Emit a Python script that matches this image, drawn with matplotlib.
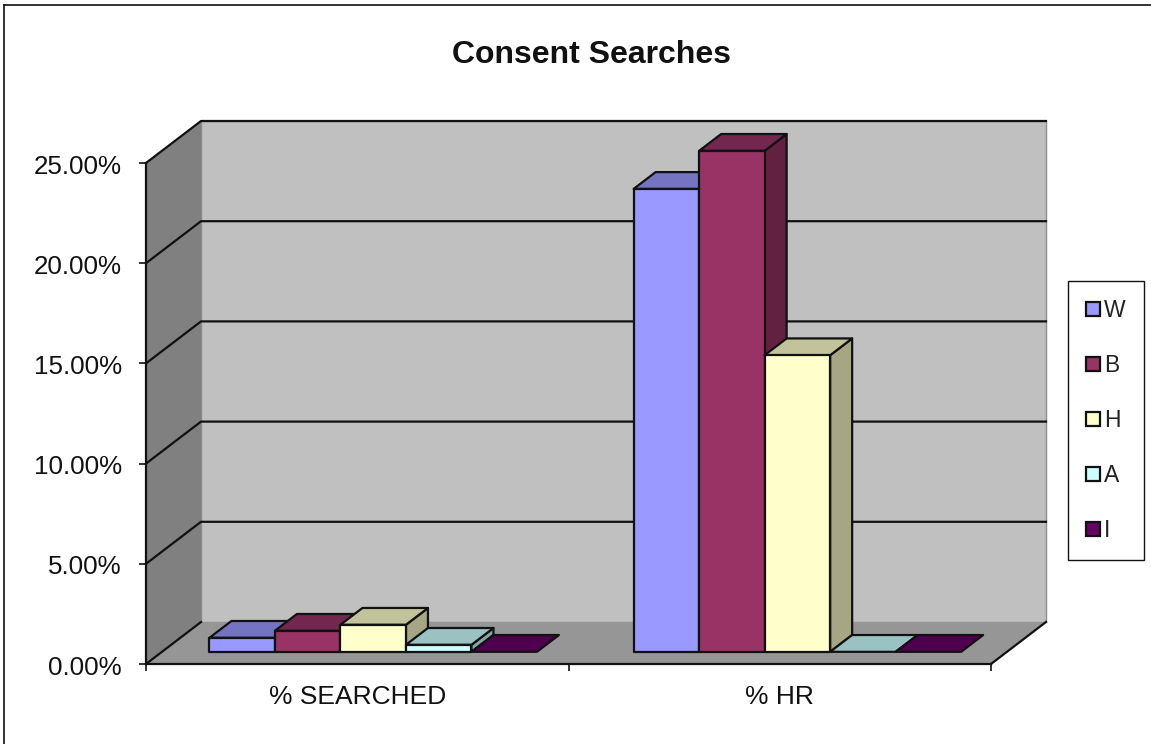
import matplotlib
matplotlib.use("Agg")
import matplotlib.pyplot as plt
from matplotlib.patches import Polygon, Patch
from matplotlib.lines import Line2D
from matplotlib.transforms import ScaledTranslation

plt.rcParams['font.family'] = ['Liberation Sans', 'DejaVu Sans']

# data
categories = ["% SEARCHED", "% HR"]
series = ["W", "B", "H", "A", "I"]
searched = [0.70, 1.05, 1.35, 0.35, 0.0]
hit_rate = [23.1, 25.0, 14.8, 0.0, 0.0]
colors = ["#9999FF", "#993366", "#FFFFCC", "#CCFFFF", "#660066"]
y_ticks = [0, 5, 10, 15, 20, 25]

W, H = 1151, 744
LEFT, RIGHT, TOP, BOTTOM = 146, 991, 163, 664

# depth of the box, in data units
DX = 55 / 422.5
DY = 42 / 20.04
BAR_W = 1 / 6.45
BAR_NEAR = 0.29
BAR_FAR = 0.69
GROUP_STEP = 1.004
EDGE = "#111111"
LW = 1.6


def shade(col, f):
    r, g, b = matplotlib.colors.to_rgb(col)
    return (r * f, g * f, b * f)


def face(ax, pts, col, z, lw=LW, ec=EDGE):
    ax.add_patch(Polygon(pts, closed=True, fc=col, ec=ec, lw=lw, zorder=z,
                         clip_on=False, joinstyle="round"))


def bar3d(ax, x, v, col, z):
    x0 = x + BAR_NEAR * DX
    x1 = x0 + BAR_W
    y0 = BAR_NEAR * DY
    y1 = y0 + v
    ox = (BAR_FAR - BAR_NEAR) * DX
    oy = (BAR_FAR - BAR_NEAR) * DY
    if v > 0:
        face(ax, [(x1, y0), (x1 + ox, y0 + oy), (x1 + ox, y1 + oy), (x1, y1)], shade(col, 0.65), z)
    face(ax, [(x0, y1), (x1, y1), (x1 + ox, y1 + oy), (x0 + ox, y1 + oy)], shade(col, 0.76), z)
    if v > 0:
        face(ax, [(x0, y0), (x1, y0), (x1, y1), (x0, y1)], col, z)


fig = plt.figure(figsize=(W / 100, H / 100), dpi=100, facecolor="white")
ax = fig.add_axes([LEFT / W, 1 - BOTTOM / H, (RIGHT - LEFT) / W, (BOTTOM - TOP) / H])
ax.set_xlim(0, 2)
ax.set_ylim(0, 25)
ax.patch.set_visible(False)

# walls and floor
face(ax, [(DX, DY), (2 + DX, DY), (2 + DX, 25 + DY), (DX, 25 + DY)], "#C0C0C0", 1, lw=1.0, ec="#8c8c8c")
face(ax, [(0, 0), (DX, DY), (DX, 25 + DY), (0, 25)], "#808080", 1, lw=0)
face(ax, [(0, 0), (2, 0), (2 + DX, DY), (DX, DY)], "#969696", 1, lw=0)

# gridlines run along the side wall and the back wall
for v in y_ticks[1:]:
    ax.plot([0, DX, 2 + DX], [v, v + DY, v + DY], color=EDGE, lw=LW, zorder=2, clip_on=False)
ax.plot([0, DX], [0, DY], color=EDGE, lw=LW, zorder=2, clip_on=False)
ax.plot([2, 2 + DX], [0, DY], color=EDGE, lw=LW, zorder=2, clip_on=False)

# bars, left to right so the nearer faces paint over
z = 3
for g, values in enumerate([searched, hit_rate]):
    start = g * GROUP_STEP + 0.5 - 2.5 * BAR_W
    for i, v in enumerate(values):
        bar3d(ax, start + i * BAR_W, v, colors[i], z)
        z += 1

# axes
for s in ["top", "right"]:
    ax.spines[s].set_visible(False)
for s in ["left", "bottom"]:
    ax.spines[s].set_linewidth(LW)
    ax.spines[s].set_color(EDGE)
    ax.spines[s].set_zorder(50)
ax.set_yticks(y_ticks)
ax.set_yticklabels([f"{v:.2f}%" for v in y_ticks], fontsize=18.7, color="#111111")
ax.tick_params(axis="y", length=5, width=1.2, color=EDGE, pad=12.5)
nudge = ScaledTranslation(0, -0.8 / 72, fig.dpi_scale_trans)
for lab in ax.get_yticklabels():
    lab.set_transform(lab.get_transform() + nudge)
ax.set_xticks([0, 1, 2])
ax.set_xticklabels([])
ax.tick_params(axis="x", which="major", length=5, width=1.2, color=EDGE)
ax.set_xticks([0.5, 1.5], minor=True)
ax.set_xticklabels(categories, minor=True, fontsize=19, color="#111111")
ax.tick_params(axis="x", which="minor", length=0, pad=15.4)

fig.text(591 / W, 1 - 55 / H, "Consent Searches", fontsize=23, fontweight="bold",
         ha="center", va="center", color="#111111")

handles = [Patch(fc=c, ec="#111111", lw=1.6) for c in colors]
leg = ax.legend(handles, series, loc="upper left", bbox_to_anchor=(1068 / W, 1 - 281 / H),
                bbox_transform=fig.transFigure, fontsize=16.5, frameon=True, fancybox=False,
                framealpha=1, edgecolor="#111111", borderpad=0.8, labelspacing=1.39,
                handlelength=0.58, handleheight=0.58, handletextpad=0.2, borderaxespad=0)
leg.get_frame().set_linewidth(1.0)
for t in leg.get_texts():
    t.set_color("#222222")

# outer chart border, only top and left are inside the crop
fig.add_artist(Line2D([4 / W, 4 / W], [0, 1 - 5 / H], color="#111111", lw=1.2))
fig.add_artist(Line2D([4 / W, 1], [1 - 5 / H, 1 - 5 / H], color="#111111", lw=1.2))

fig.savefig("out.png", dpi=100)
